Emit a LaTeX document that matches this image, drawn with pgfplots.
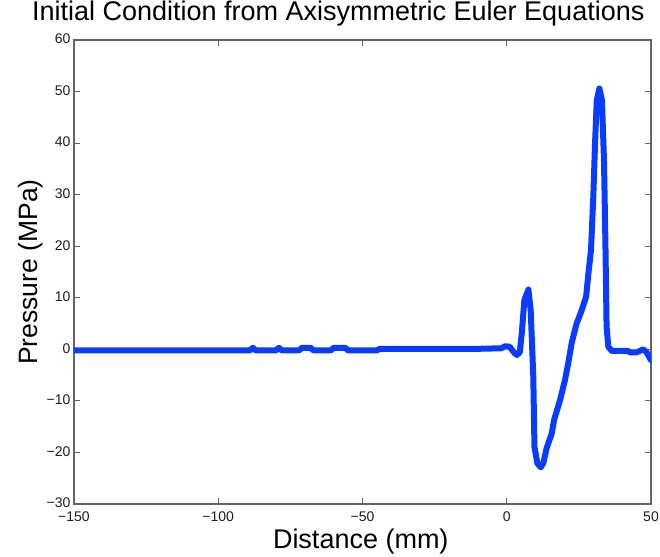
\documentclass[border=0pt]{standalone}
\usepackage{fontspec}
\setmainfont{Liberation Sans}
\usepackage{pgfplots}
\pgfplotsset{compat=1.18}
\definecolor{lineblue}{RGB}{10,60,255}
\definecolor{axgray}{RGB}{100,100,100}
\definecolor{txt}{RGB}{30,30,30}

\begin{document}
\begin{tikzpicture}
\path[use as bounding box] (-74pt,-52pt) rectangle (586pt,504pt);
\begin{axis}[
    scale only axis,
    width=577pt, height=464pt,
    xmin=-150, xmax=50,
    ymin=-30, ymax=60,
    xtick={-150,-100,-50,0,50},
    xticklabels={−150,−100,−50,0,50},
    ytick={-30,-20,-10,0,10,20,30,40,50,60},
    yticklabels={−30,−20,−10,0,10,20,30,40,50,60},
    tick align=inside,
    major tick length=6pt,
    axis line style={axgray, line width=1.2pt},
    tick style={axgray, line width=0.8pt},
    tick label style={font=\fontsize{14}{16}\selectfont, text=txt},
    xticklabel style={yshift=-4pt},
    yticklabel style={xshift=0pt, yshift=1pt},
    title={Initial Condition from Axisymmetric Euler Equations},
    title style={font=\fontsize{27}{31}\selectfont, anchor=base, at={(0.458,1)}, yshift=13pt, inner sep=0pt},
    xlabel={Distance (mm)},
    xlabel style={font=\fontsize{27}{31}\selectfont, anchor=base, at={(0.497,0)}, yshift=-44pt, inner sep=0pt},
    ylabel={Pressure (MPa)},
    ylabel style={font=\fontsize{26.5}{30}\selectfont, anchor=base, at={(-0.0641,0.5)}, inner sep=0pt},
    clip=true,
]
\addplot[color=lineblue, line width=6pt, line join=round, line cap=round] coordinates {
(-150,-0.2) (-89,-0.2) (-88,0.3) (-87,-0.2) (-80,-0.2) (-79,0.3) (-78,-0.2)
(-72,-0.2) (-71,0.3) (-68,0.3) (-67,-0.2) (-61,-0.2) (-60,0.3) (-56,0.3)
(-55,-0.2) (-45,-0.2) (-44,0.1) (-10,0.1) (-2,0.2) (-0.5,0.6) (1,0.5)
(2.5,-0.6) (3.5,-1.1) (4.5,-0.6) (5.2,3.1) (6.1,9.5) (7.5,11.6) (8.3,7.6)
(9.2,-5.3) (9.6,-18.9) (10.6,-22.1) (11.8,-22.9) (12.7,-22.0) (13.8,-19.2)
(15.6,-16.3) (16.4,-13.7) (18.5,-9.8) (20.2,-5.9) (21.3,-2.7) (22.5,1.2)
(24.2,5.0) (25.6,7.0) (27.5,10.2) (28.3,14.7) (29.2,19.2) (30.0,29.6)
(30.6,39.9) (31.2,48.3) (32.1,50.6) (33.0,48.3) (33.7,36.7) (34.2,20.5)
(34.6,4.4) (35.2,0.5) (36.4,-0.3) (42.1,-0.3) (42.7,-0.6) (45,-0.6)
(47.3,0) (48.5,-0.6) (50,-2.1)
};
\end{axis}
\end{tikzpicture}
\end{document}
